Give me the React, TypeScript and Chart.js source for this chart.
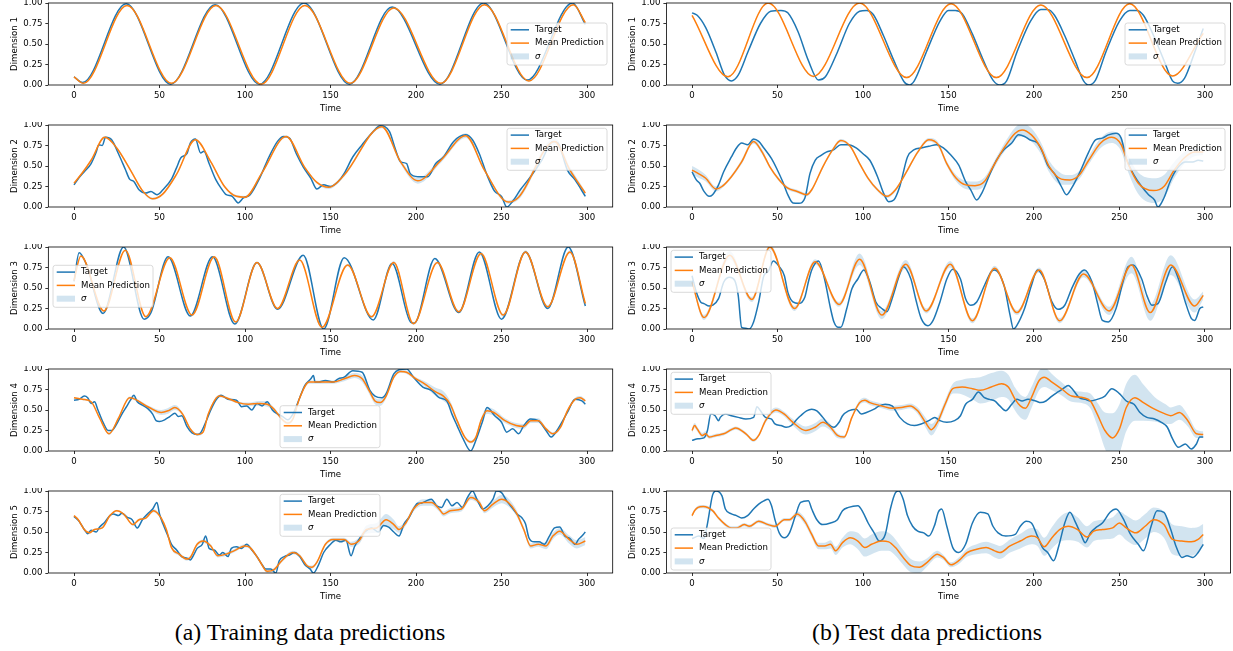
import React, { useEffect, useRef } from 'react';
import { Chart, registerables } from 'chart.js';

Chart.register(...registerables);

type P2 = [number, number];
type P3 = [number, number, number]; // [time, mean, sigma]

// ---------------- axis / text content ----------------
const X_TICKS = [0, 50, 100, 150, 200, 250, 300];
const Y_TICKS = [0, 0.25, 0.5, 0.75, 1.0];
const SERIES_LABELS = ['Target', 'Mean Prediction', 'σ'];
const X_LABEL = 'Time';
const Y_LABEL_PREFIX = 'Dimension';
const CAPTIONS = ['(a) Training data predictions', '(b) Test data predictions'];

// ---------------- (a) training data ----------------
const trainTargetD1: P2[] = [[0,0.10],[5,0.03],[30.5,0.99],[56.5,0.01],[82.5,0.98],[108.5,0.01],[134.5,1.0],[161,0.01],[186,0.95],[214,0.01],[239.5,1.0],[265,0.06],[291.5,1.0],[299,0.74]];
const trainMeanD1: P3[] = [[0,0.10,0.01],[5.5,0.02,0.01],[31,0.97,0.01],[57,0.02,0.01],[83,0.97,0.01],[109.5,0.01,0.01],[135,0.97,0.01],[161.5,0.02,0.01],[187,0.94,0.01],[214.5,0.02,0.01],[240,0.98,0.01],[266,0.05,0.01],[292,0.98,0.01],[299,0.76,0.01]];

const trainTargetD2: P2[] = [[0,0.27],[3,0.36],[6,0.43],[10,0.53],[13,0.67],[14.5,0.76],[16.5,0.75],[18.5,0.85],[22,0.82],[26,0.65],[30,0.46],[32.5,0.34],[35,0.31],[38,0.21],[42,0.17],[45,0.19],[48.5,0.15],[52,0.21],[57,0.34],[60,0.48],[62.5,0.6],[66,0.65],[68,0.78],[71,0.83],[74,0.66],[76,0.68],[79,0.53],[83,0.33],[86,0.23],[89,0.15],[92.5,0.13],[96,0.05],[99,0.11],[103,0.15],[108.5,0.35],[114,0.61],[119,0.8],[122.5,0.86],[126,0.84],[130,0.65],[134,0.49],[138.5,0.35],[142,0.22],[146,0.27],[150,0.25],[154.5,0.31],[158,0.41],[163,0.61],[168.5,0.76],[175,0.92],[179,0.99],[184.5,0.92],[188,0.70],[191,0.55],[194.5,0.53],[196.5,0.41],[201,0.37],[207,0.37],[211.5,0.53],[216,0.61],[222,0.8],[229,0.88],[233,0.82],[237,0.65],[241.5,0.39],[246,0.19],[250,0.13],[253,0.0],[256.5,0.07],[261,0.21],[267,0.37],[273.5,0.57],[280,0.8],[283,0.78],[288.5,0.45],[293,0.33],[299,0.13]];
const trainMeanD2: P3[] = [[0,0.29,0.01],[5,0.42,0.01],[10,0.57,0.01],[18,0.85,0.015],[25,0.72,0.015],[33,0.45,0.015],[40,0.2,0.015],[46,0.10,0.015],[52,0.16,0.015],[60,0.40,0.015],[71,0.82,0.015],[80,0.55,0.015],[88,0.25,0.015],[95,0.13,0.015],[100,0.12,0.015],[110,0.42,0.015],[124,0.86,0.015],[135,0.48,0.015],[142,0.30,0.015],[149,0.24,0.02],[158,0.39,0.02],[180,0.98,0.02],[191,0.55,0.03],[201,0.32,0.035],[215,0.58,0.03],[229,0.87,0.03],[240,0.45,0.02],[254,0.06,0.02],[260,0.12,0.03],[281,0.80,0.04],[290,0.45,0.04],[299,0.17,0.02]];

const trainTargetD3: P2[] = [[0,0.58],[3,0.93],[7,0.8],[17,0.19],[29,1.0],[41,0.12],[45,0.2],[55,0.88],[68,0.16],[81,0.88],[94,0.06],[107,0.81],[119,0.24],[134,0.9],[146,0.0],[158,0.87],[175,0.11],[186,0.8],[197,0.08],[199,0.07],[211,0.86],[225,0.2],[237,0.94],[250,0.12],[264,0.94],[277,0.25],[289,1.0],[299,0.28]];
const trainMeanD3: P3[] = [[0,0.59,0.01],[4,0.89,0.01],[17.5,0.22,0.01],[30,0.96,0.01],[42,0.15,0.01],[56,0.87,0.01],[69,0.17,0.01],[82,0.88,0.01],[94.5,0.085,0.01],[107,0.81,0.01],[119,0.25,0.01],[132,0.84,0.01],[145,0.02,0.01],[160,0.78,0.015],[174,0.15,0.015],[187,0.81,0.02],[198.5,0.065,0.015],[212.5,0.81,0.015],[225,0.21,0.02],[238,0.92,0.02],[251,0.17,0.02],[264,0.94,0.02],[277,0.27,0.02],[290,0.94,0.02],[299,0.31,0.02]];

const trainTargetD4: P2[] = [[0,0.62],[3,0.63],[6,0.67],[8,0.65],[10,0.58],[12,0.6],[14,0.5],[17,0.35],[20,0.25],[22,0.25],[25,0.33],[28,0.45],[31,0.55],[33,0.62],[35,0.68],[37,0.6],[40,0.56],[43,0.52],[46,0.45],[48,0.37],[50,0.36],[53,0.38],[56,0.42],[59,0.46],[61,0.42],[63,0.43],[66,0.3],[69,0.22],[72,0.2],[74,0.22],[77,0.35],[80,0.5],[83,0.62],[86,0.68],[90,0.63],[95,0.62],[98,0.54],[101,0.55],[104,0.5],[107,0.58],[110,0.55],[113,0.6],[116,0.5],[119,0.45],[122,0.42],[125,0.38],[128,0.45],[132,0.65],[135,0.8],[138.5,0.88],[140,0.92],[141,0.84],[143,0.84],[147,0.86],[151.5,0.84],[154.5,0.88],[158,0.9],[163,0.98],[168.5,0.96],[173,0.74],[176,0.67],[180,0.65],[182.5,0.70],[187,0.94],[190,0.99],[194.5,1.0],[198.5,0.9],[204,0.78],[209,0.74],[213.5,0.65],[218,0.61],[221,0.45],[224,0.31],[227.5,0.15],[232,0.0],[235,0.13],[239,0.37],[241.5,0.53],[246,0.43],[250,0.35],[253,0.23],[256.5,0.27],[260,0.21],[263,0.31],[267,0.39],[271.5,0.37],[276,0.25],[279,0.17],[283,0.27],[288.5,0.47],[293,0.63],[297,0.61],[299,0.57]];
const trainMeanD4: P3[] = [[0,0.65,0.01],[5,0.63,0.01],[10,0.6,0.01],[15,0.4,0.01],[20.5,0.21,0.015],[26,0.4,0.015],[32.5,0.65,0.015],[44,0.53,0.02],[51,0.47,0.03],[55,0.49,0.035],[59,0.53,0.03],[63.5,0.45,0.02],[68,0.27,0.015],[72,0.2,0.015],[75.5,0.23,0.015],[78.5,0.45,0.015],[85,0.67,0.015],[89,0.65,0.015],[96,0.59,0.015],[102,0.57,0.02],[108.5,0.58,0.03],[113,0.57,0.03],[117,0.51,0.02],[121.5,0.39,0.02],[125,0.34,0.02],[128,0.39,0.02],[132,0.65,0.02],[137.5,0.84,0.02],[143,0.84,0.02],[151.5,0.84,0.02],[158,0.88,0.03],[164,0.92,0.03],[168.5,0.88,0.04],[173,0.72,0.04],[176,0.61,0.04],[179,0.59,0.04],[182.5,0.67,0.03],[187,0.90,0.02],[191,0.97,0.02],[194.5,0.96,0.02],[200,0.88,0.02],[205,0.82,0.03],[211.5,0.72,0.05],[216,0.67,0.06],[220,0.57,0.04],[224,0.37,0.03],[228.5,0.17,0.02],[232,0.11,0.02],[235,0.17,0.02],[238,0.37,0.03],[241.5,0.49,0.04],[245.5,0.47,0.04],[252,0.37,0.03],[258.5,0.31,0.03],[263,0.30,0.03],[267,0.37,0.03],[271.5,0.37,0.03],[276,0.27,0.02],[280,0.21,0.02],[284.5,0.29,0.02],[288.5,0.49,0.02],[293,0.63,0.02],[296,0.65,0.02],[299,0.61,0.02]];

const trainTargetD5: P2[] = [[0,0.69],[3,0.63],[6,0.53],[8,0.48],[10,0.52],[13,0.5],[15,0.56],[18,0.62],[21,0.7],[23,0.72],[26,0.7],[28,0.73],[31,0.68],[34,0.65],[37,0.55],[40,0.65],[43,0.72],[46,0.78],[48.5,0.86],[50,0.72],[52,0.6],[55,0.45],[57,0.35],[60,0.28],[63,0.2],[66,0.18],[68,0.16],[70,0.22],[72,0.3],[75,0.35],[77,0.45],[79,0.3],[82,0.28],[85,0.22],[87,0.25],[90,0.2],[92,0.3],[95,0.32],[98,0.3],[101,0.35],[104,0.28],[107,0.2],[110,0.1],[112,0.05],[115,0.05],[118,0.0],[120,0.15],[123,0.2],[126,0.22],[129,0.25],[132,0.2],[135,0.1],[138,0.05],[140,0.0],[143,0.1],[146,0.25],[150,0.35],[153,0.4],[156,0.38],[159,0.4],[162,0.21],[164,0.32],[167,0.42],[170,0.5],[174,0.55],[178,0.5],[181,0.58],[184,0.56],[187,0.5],[190,0.45],[193,0.6],[196,0.68],[199,0.8],[201,0.85],[203,0.85],[206,0.88],[209,0.9],[212,0.82],[215,0.8],[218,0.9],[221,0.82],[224,0.86],[227,0.8],[230,0.92],[233,1.0],[236,0.88],[239,0.78],[242,0.82],[245,0.9],[247,1.0],[250,0.98],[253,0.88],[256,0.8],[259,0.72],[262,0.67],[264,0.6],[266,0.43],[269,0.38],[272,0.38],[275,0.35],[278,0.45],[281,0.55],[284,0.56],[287,0.45],[290,0.42],[293,0.35],[295,0.41],[297,0.45],[299,0.5]];
const trainMeanD5: P3[] = [[0,0.70,0.01],[2.5,0.65,0.01],[6,0.53,0.01],[9,0.49,0.01],[12,0.53,0.01],[16.5,0.55,0.01],[21,0.70,0.01],[25,0.76,0.01],[29,0.72,0.01],[34.5,0.59,0.015],[38,0.65,0.015],[42,0.67,0.015],[46.5,0.76,0.02],[51,0.67,0.02],[54,0.53,0.02],[57,0.31,0.02],[61.5,0.23,0.02],[66,0.17,0.02],[68,0.19,0.02],[72,0.35,0.02],[75.5,0.39,0.02],[80,0.33,0.02],[84,0.21,0.02],[89,0.23,0.02],[93.5,0.27,0.02],[100,0.33,0.02],[103,0.31,0.02],[108.5,0.15,0.02],[113,0.02,0.02],[117,0.04,0.02],[121.5,0.15,0.02],[128,0.25,0.02],[132,0.21,0.02],[136.5,0.085,0.02],[139,0.07,0.02],[142,0.13,0.02],[147,0.35,0.02],[151.5,0.41,0.02],[158,0.41,0.02],[162,0.35,0.03],[166.5,0.39,0.04],[171,0.53,0.05],[177,0.55,0.06],[182.5,0.65,0.07],[187,0.59,0.06],[190,0.53,0.04],[194,0.61,0.03],[198.5,0.78,0.03],[204,0.86,0.04],[209,0.86,0.04],[213.5,0.78,0.03],[216,0.72,0.03],[220,0.76,0.03],[226.5,0.78,0.03],[232,0.92,0.03],[237,0.86,0.03],[240,0.76,0.03],[245,0.84,0.04],[250,0.90,0.05],[254,0.86,0.05],[258.5,0.74,0.04],[263,0.53,0.03],[267,0.33,0.03],[271.5,0.35,0.03],[276,0.33,0.04],[280,0.45,0.04],[284,0.51,0.04],[289.5,0.41,0.05],[294,0.35,0.05],[299,0.39,0.05]];

// ---------------- (b) test data ----------------
const testTargetD1: P2[] = [[0,0.88],[3,0.85],[8,0.7],[14,0.4],[19,0.12],[23,0.05],[27,0.12],[33,0.42],[40,0.75],[46,0.9],[52,0.91],[56,0.88],[62,0.65],[68,0.3],[74,0.06],[78,0.1],[85,0.4],[92,0.75],[98,0.9],[102,0.91],[106,0.86],[112,0.6],[118,0.3],[124,0.04],[127,0.0],[130,0.05],[137,0.4],[145,0.78],[150,0.91],[154,0.91],[158,0.87],[164,0.62],[170,0.32],[176,0.06],[180,0.0],[184,0.05],[190,0.4],[198,0.78],[204,0.92],[208,0.92],[212,0.85],[218,0.6],[224,0.3],[229,0.05],[232,0.0],[236,0.06],[242,0.4],[250,0.78],[256,0.91],[260,0.91],[264,0.85],[270,0.6],[276,0.3],[281,0.05],[284,0.02],[288,0.08],[294,0.4],[299,0.69]];
const testMeanD1: P3[] = [[0,0.85,0.01],[21,0.10,0.01],[44.5,1.0,0.01],[71,0.105,0.01],[98,1.0,0.01],[125.5,0.09,0.01],[151.5,0.99,0.01],[178,0.09,0.01],[204,0.975,0.01],[231,0.09,0.01],[256,0.99,0.01],[281,0.11,0.01],[299,0.63,0.01]];

const testTargetD2: P2[] = [[0,0.43],[2.5,0.33],[4.5,0.29],[7,0.19],[10,0.13],[12,0.15],[15.5,0.27],[18.5,0.43],[23,0.61],[26,0.72],[29,0.78],[32.5,0.76],[36,0.83],[39,0.80],[42,0.72],[46.5,0.59],[49.5,0.47],[53,0.31],[56,0.15],[59,0.05],[62.5,0.045],[66,0.11],[69,0.41],[72,0.57],[75.5,0.63],[78.5,0.67],[83,0.70],[87,0.76],[91.5,0.76],[96,0.72],[100,0.65],[104,0.57],[108.5,0.37],[112,0.17],[115,0.065],[118,0.085],[121.5,0.25],[126,0.61],[130,0.70],[134,0.72],[138.5,0.74],[143,0.76],[147,0.72],[151.5,0.63],[156,0.51],[160,0.31],[163,0.21],[166.5,0.085],[169.5,0.17],[174,0.39],[178,0.57],[182.5,0.70],[187,0.78],[191,0.88],[194.5,0.86],[197.5,0.82],[202,0.78],[205,0.67],[208,0.51],[212.5,0.39],[216,0.25],[219,0.15],[222,0.23],[226.5,0.41],[232,0.67],[236,0.82],[240,0.84],[243.5,0.88],[248,0.90],[251,0.84],[254,0.59],[258.5,0.39],[263,0.25],[267,0.15],[270.5,0.085],[272.5,0.0],[276,0.11],[280,0.33],[284.5,0.49],[288.5,0.55],[293,0.55],[296,0.57],[299,0.56]];
const testMeanD2: P3[] = [[0,0.45,0.05],[3.5,0.41,0.05],[8,0.35,0.04],[14,0.22,0.03],[17.5,0.25,0.02],[23,0.37,0.02],[29,0.55,0.03],[36,0.80,0.03],[41,0.67,0.03],[45.5,0.49,0.02],[51,0.33,0.02],[56,0.23,0.02],[61.5,0.19,0.02],[67,0.15,0.02],[70,0.21,0.02],[76.5,0.49,0.02],[82,0.69,0.02],[87,0.81,0.02],[92.5,0.74,0.02],[98,0.53,0.02],[103,0.35,0.02],[108.5,0.21,0.02],[114,0.13,0.02],[119,0.21,0.02],[126,0.45,0.02],[132,0.67,0.02],[138.5,0.82,0.02],[144,0.76,0.03],[149,0.53,0.03],[154.5,0.35,0.04],[160,0.27,0.05],[165.5,0.26,0.05],[171,0.31,0.05],[176,0.49,0.04],[182.5,0.72,0.05],[189,0.90,0.07],[193,0.94,0.08],[198.5,0.88,0.08],[204,0.72,0.07],[209,0.49,0.07],[216,0.34,0.07],[221,0.33,0.06],[226.5,0.39,0.05],[232,0.57,0.05],[239,0.78,0.06],[245.5,0.85,0.07],[251,0.76,0.08],[255,0.53,0.1],[261,0.29,0.13],[270,0.2,0.15],[276,0.25,0.14],[282,0.45,0.1],[288.5,0.61,0.07],[294,0.67,0.05],[299,0.67,0.04]];

const testTargetD3: P2[] = [[0,0.65],[2.5,0.45],[5,0.33],[7,0.31],[10,0.28],[12,0.29],[15.5,0.37],[18.5,0.57],[22,0.63],[25,0.59],[27,0.41],[29,0.02],[31.5,0.01],[33.5,0.0],[36,0.085],[39,0.33],[42,0.65],[44.5,0.70],[47.5,0.83],[51,0.76],[54,0.65],[56,0.45],[59,0.33],[62.5,0.31],[66,0.39],[68,0.57],[70,0.72],[74,0.83],[77.5,0.61],[81,0.25],[83,0.085],[85.5,0.02],[87,0.02],[90.5,0.25],[93.5,0.49],[97,0.61],[100.5,0.72],[104,0.57],[107.5,0.33],[111,0.25],[114,0.21],[117,0.37],[121.5,0.67],[123.5,0.76],[128,0.61],[131,0.35],[134,0.13],[138,0.04],[141,0.105],[145,0.33],[149,0.61],[152.5,0.73],[157,0.61],[160,0.37],[163,0.29],[166.5,0.33],[171,0.53],[175,0.70],[177,0.72],[182.5,0.53],[186,0.17],[188,0.0],[190,0.045],[194.5,0.25],[198.5,0.53],[202,0.72],[206,0.61],[210.5,0.33],[214,0.24],[218,0.29],[222,0.49],[226.5,0.67],[229.5,0.72],[234,0.57],[237,0.33],[240,0.105],[243.5,0.085],[248,0.25],[252,0.57],[255,0.76],[258,0.78],[263,0.61],[266,0.41],[269,0.29],[272.5,0.31],[277,0.57],[281,0.76],[284.5,0.61],[288.5,0.33],[292,0.13],[294,0.105],[297,0.25],[299,0.27]];
const testMeanD3: P3[] = [[0,0.57,0.03],[7,0.14,0.03],[22,0.9,0.05],[35,0.36,0.03],[45.5,1.0,0.03],[60,0.25,0.03],[72,0.82,0.03],[86,0.3,0.03],[98,0.85,0.07],[111,0.17,0.05],[125,0.79,0.05],[137,0.22,0.03],[151,0.79,0.04],[164,0.1,0.03],[177,0.74,0.03],[190,0.2,0.03],[203,0.72,0.03],[215,0.1,0.03],[229,0.67,0.04],[244,0.22,0.05],[257,0.78,0.1],[268,0.2,0.1],[280,0.78,0.12],[294,0.28,0.08],[299,0.41,0.05]];

const testTargetD4: P2[] = [[0,0.13],[3.5,0.15],[7,0.16],[9,0.25],[11,0.45],[13.5,0.43],[15.5,0.37],[16.5,0.41],[19.5,0.45],[23,0.43],[27,0.41],[31.5,0.39],[36,0.41],[38,0.54],[40,0.49],[43,0.41],[46.5,0.39],[48.5,0.33],[52,0.31],[55,0.29],[58,0.31],[61.5,0.39],[63.5,0.43],[67,0.49],[70,0.51],[73,0.49],[76.5,0.41],[79.5,0.33],[83,0.29],[86,0.35],[88,0.43],[91.5,0.49],[96,0.51],[99,0.45],[102,0.47],[106.5,0.51],[109.5,0.55],[113,0.57],[117,0.55],[121.5,0.41],[126,0.33],[130,0.31],[134,0.33],[138.5,0.37],[142,0.41],[145,0.37],[149,0.35],[153.5,0.37],[157,0.43],[160,0.57],[164,0.63],[167.5,0.72],[171,0.65],[174,0.63],[177,0.61],[180,0.55],[183.5,0.49],[187,0.57],[190,0.63],[193,0.61],[196.5,0.63],[201,0.61],[204,0.59],[207,0.61],[210.5,0.67],[214,0.72],[217,0.76],[220,0.80],[223,0.74],[226.5,0.65],[230,0.63],[233,0.61],[237,0.63],[241.5,0.67],[245.5,0.76],[250,0.70],[254,0.61],[258.5,0.57],[262,0.47],[266,0.41],[270.5,0.39],[274.5,0.35],[278,0.29],[281,0.15],[284.5,0.045],[288.5,0.085],[292,0.025],[295,0.085],[297,0.17],[299,0.17]];
const testMeanD4: P3[] = [[0,0.25,0.03],[1.5,0.31,0.03],[3,0.27,0.03],[6,0.19,0.03],[8,0.21,0.03],[10,0.17,0.02],[14,0.19,0.02],[18.5,0.21,0.02],[23,0.26,0.02],[25.5,0.28,0.02],[31.5,0.21,0.02],[36,0.13,0.02],[39,0.19,0.02],[43,0.37,0.03],[49,0.50,0.03],[54,0.45,0.03],[59,0.35,0.04],[66.5,0.25,0.05],[72,0.29,0.05],[76.5,0.35,0.05],[81,0.29,0.04],[85,0.19,0.03],[89,0.17,0.02],[93.5,0.41,0.02],[98,0.59,0.03],[101,0.62,0.03],[104,0.59,0.03],[111,0.55,0.03],[117,0.52,0.03],[122.5,0.53,0.03],[127.5,0.55,0.03],[132,0.49,0.04],[136.5,0.35,0.06],[140,0.26,0.07],[144,0.37,0.06],[148,0.57,0.05],[152.5,0.76,0.06],[158,0.78,0.09],[164,0.76,0.13],[168.5,0.74,0.16],[175,0.78,0.17],[181,0.82,0.16],[185,0.78,0.15],[189,0.63,0.14],[192,0.55,0.14],[195,0.52,0.14],[198.5,0.65,0.13],[203,0.86,0.12],[206,0.90,0.12],[210.5,0.84,0.1],[216,0.76,0.08],[222,0.67,0.07],[229,0.65,0.07],[233,0.61,0.09],[237,0.45,0.14],[241.5,0.25,0.22],[246,0.16,0.3],[250,0.27,0.3],[254,0.53,0.29],[259,0.65,0.28],[264,0.59,0.22],[270.5,0.51,0.15],[277,0.45,0.12],[280,0.43,0.1],[285,0.47,0.09],[290,0.37,0.07],[295,0.21,0.05],[299,0.2,0.04]];

const testTargetD5: P2[] = [[0,0.42],[4,0.45],[7,0.42],[9,0.6],[12,0.95],[14,1.0],[17.5,0.94],[19.5,0.78],[23,0.72],[26,0.70],[29,0.67],[32.5,0.70],[36,0.78],[39,0.84],[42,0.88],[44.5,0.90],[46.5,0.82],[48.5,0.65],[51,0.49],[54,0.43],[57,0.49],[60.5,0.70],[63.5,0.86],[68,0.88],[70,0.78],[73,0.65],[76.5,0.59],[81,0.61],[85,0.65],[88,0.76],[91.5,0.80],[97,0.82],[100,0.74],[103,0.61],[106.5,0.49],[109.5,0.39],[113,0.47],[116,0.78],[119,0.98],[121,1.0],[123.5,0.90],[126,0.70],[129,0.57],[132,0.51],[135.5,0.49],[138.5,0.45],[142,0.59],[144,0.74],[146,0.78],[149,0.57],[152.5,0.31],[156,0.25],[160,0.35],[164,0.61],[168.5,0.74],[173,0.72],[176,0.57],[179,0.49],[183.5,0.45],[189,0.47],[192,0.57],[195.5,0.63],[198.5,0.61],[202,0.45],[205,0.31],[208,0.25],[211.5,0.15],[214.5,0.33],[218,0.61],[221,0.74],[224,0.63],[227.5,0.47],[230,0.37],[233,0.49],[236,0.55],[240,0.61],[244.5,0.74],[248,0.78],[252,0.67],[256.5,0.47],[261,0.35],[264,0.27],[268.5,0.57],[272,0.76],[276,0.74],[280,0.53],[283,0.33],[286.5,0.19],[289.5,0.21],[293,0.19],[296,0.25],[299,0.35]];
const testMeanD5: P3[] = [[0,0.70,0.02],[1.5,0.76,0.02],[3.5,0.80,0.02],[6.5,0.81,0.02],[12,0.76,0.02],[15.5,0.67,0.02],[19.5,0.59,0.02],[23,0.55,0.02],[26,0.55,0.02],[30.5,0.59,0.02],[33.5,0.57,0.02],[39,0.63,0.02],[44.5,0.59,0.02],[48.5,0.57,0.02],[54,0.65,0.02],[57,0.65,0.02],[61.5,0.72,0.03],[66,0.63,0.04],[70,0.47,0.04],[74,0.33,0.04],[77.5,0.33,0.04],[81,0.35,0.05],[84,0.27,0.05],[88,0.37,0.06],[92.5,0.43,0.08],[97,0.39,0.1],[101,0.31,0.11],[105,0.35,0.12],[111,0.39,0.12],[115,0.38,0.11],[119,0.31,0.1],[123.5,0.19,0.09],[128,0.09,0.08],[133,0.07,0.07],[137.5,0.13,0.05],[143.5,0.23,0.04],[147,0.19,0.03],[151.5,0.1,0.03],[156,0.15,0.04],[161,0.25,0.05],[166.5,0.29,0.06],[172,0.31,0.07],[177,0.27,0.08],[180,0.25,0.08],[186,0.33,0.08],[192,0.39,0.09],[198.5,0.45,0.1],[202,0.43,0.1],[206,0.32,0.11],[210.5,0.43,0.13],[215,0.53,0.15],[220,0.57,0.17],[225.5,0.53,0.15],[231,0.44,0.13],[235,0.51,0.12],[240,0.53,0.12],[246,0.55,0.13],[250,0.61,0.14],[254,0.55,0.15],[259.5,0.49,0.15],[265,0.57,0.15],[270,0.65,0.15],[276,0.59,0.16],[281,0.41,0.18],[286.5,0.39,0.18],[292,0.38,0.17],[296,0.41,0.15],[299,0.47,0.13]];

// ---------------- styling / layout ----------------
const BLUE = '#1f77b4';
const ORANGE = '#ff7f0e';
const BAND = 'rgba(31,119,180,0.2)';
const FONT = 'DejaVu Sans';
const FS = 8.6;
const CW = 615;
const CH = 122;
const COL_X = [0, 618];
const AXIS_W = [48.35, 48.4];
const PAD_R = [2.3, 2.4];
const PLOT_TOP = 3;
const X_AXIS_H = 37;

Chart.defaults.font.family = FONT;
Chart.defaults.font.size = FS;
Chart.defaults.color = '#000';

const framePlugin = {
  id: 'frameLegend',
  afterDatasetsDraw(chart: any) {
    const { ctx, chartArea: a } = chart;
    ctx.save();
    ctx.strokeStyle = '#000';
    ctx.lineWidth = 0.8;
    ctx.strokeRect(a.left, a.top, a.right - a.left, a.bottom - a.top);
    ctx.restore();
  },
  afterDraw(chart: any, _args: any, opts: any) {
    const { ctx } = chart;
    const x = opts.x;
    const y = opts.y;
    const w = 100;
    const h = 42;
    ctx.save();
    ctx.beginPath();
    ctx.roundRect(x, y, w, h, 2.5);
    ctx.fillStyle = 'rgba(255,255,255,0.8)';
    ctx.fill();
    ctx.strokeStyle = 'rgba(204,204,204,0.9)';
    ctx.lineWidth = 0.8;
    ctx.stroke();
    const rows = [y + 6.8, y + 20.1, y + 33.4];
    const hx0 = x + 3.7;
    const hx1 = x + 22;
    ctx.lineWidth = 1.5;
    ctx.strokeStyle = BLUE;
    ctx.beginPath(); ctx.moveTo(hx0, rows[0]); ctx.lineTo(hx1, rows[0]); ctx.stroke();
    ctx.strokeStyle = ORANGE;
    ctx.beginPath(); ctx.moveTo(hx0, rows[1]); ctx.lineTo(hx1, rows[1]); ctx.stroke();
    ctx.fillStyle = BAND;
    ctx.fillRect(hx0, rows[2] - 3, hx1 - hx0, 6);
    ctx.fillStyle = '#000';
    ctx.textAlign = 'left';
    ctx.textBaseline = 'middle';
    ctx.font = `${FS}px "${FONT}"`;
    ctx.fillText(SERIES_LABELS[0], x + 28, rows[0]);
    ctx.fillText(SERIES_LABELS[1], x + 28, rows[1]);
    ctx.font = `italic ${FS}px "${FONT}"`;
    ctx.fillText(SERIES_LABELS[2], x + 28, rows[2]);
    ctx.restore();
  },
};

type PanelProps = {
  col: number;
  row: number;
  dim: number;
  target: P2[];
  mean: P3[];
  legend: [number, number];
};

function Panel({ col, row, dim, target, mean, legend }: PanelProps) {
  const ref = useRef<HTMLCanvasElement>(null);
  useEffect(() => {
    const canvas = ref.current;
    if (!canvas) return;
    const line = { pointRadius: 0, pointHoverRadius: 0, cubicInterpolationMode: 'monotone' as const, fill: false };
    const chart = new Chart(canvas, {
      type: 'line',
      data: {
        datasets: [
          { ...line, label: SERIES_LABELS[1], data: mean.map(([t, m]) => ({ x: t, y: m })), borderColor: ORANGE, borderWidth: 1.5 },
          { ...line, label: SERIES_LABELS[0], data: target.map(([t, v]) => ({ x: t, y: v })), borderColor: BLUE, borderWidth: 1.5 },
          { ...line, label: 'upper', data: mean.map(([t, m, s]) => ({ x: t, y: m + s })), borderColor: 'rgba(0,0,0,0)', borderWidth: 1, backgroundColor: BAND, fill: '+1', clip: 0 },
          { ...line, label: 'lower', data: mean.map(([t, m, s]) => ({ x: t, y: m - s })), borderColor: 'rgba(0,0,0,0)', borderWidth: 1, clip: 0 },
        ],
      },
      options: {
        animation: false,
        responsive: false,
        maintainAspectRatio: false,
        events: [],
        layout: { padding: { top: PLOT_TOP, right: PAD_R[col], bottom: 0, left: 0 } },
        plugins: {
          legend: { display: false },
          tooltip: { enabled: false },
          frameLegend: { x: legend[0], y: legend[1] },
        } as any,
        scales: {
          x: {
            type: 'linear',
            min: -15,
            max: 315,
            afterBuildTicks: (s: any) => { s.ticks = X_TICKS.map((v) => ({ value: v })); },
            afterFit: (s: any) => { s.height = X_AXIS_H; s.paddingLeft = 0; s.paddingRight = 0; },
            ticks: { autoSkip: false, maxRotation: 0, padding: 3, color: '#000', font: { size: FS, family: FONT } },
            grid: { display: true, drawOnChartArea: false, drawTicks: true, tickLength: 3, tickWidth: 0.8, tickColor: '#000' },
            border: { display: false },
            title: { display: true, text: X_LABEL, color: '#000', font: { size: FS, family: FONT }, padding: { top: 0, bottom: 8 } },
          },
          y: {
            type: 'linear',
            min: 0,
            max: 1,
            afterBuildTicks: (s: any) => { s.ticks = Y_TICKS.map((v) => ({ value: v })); },
            afterFit: (s: any) => { s.width = AXIS_W[col]; s.paddingTop = 0; s.paddingBottom = 0; },
            ticks: { autoSkip: false, padding: 3, color: '#000', font: { size: FS, family: FONT }, callback: (v: any) => Number(v).toFixed(2) },
            grid: { display: true, drawOnChartArea: false, drawTicks: true, tickLength: 3, tickWidth: 0.8, tickColor: '#000' },
            border: { display: false },
            title: { display: true, text: `${Y_LABEL_PREFIX} ${dim}`, color: '#000', font: { size: FS, family: FONT }, padding: { top: 9.8, bottom: 0 } },
          },
        },
      },
      plugins: [framePlugin],
    });
    return () => chart.destroy();
  }, [col, row, dim, target, mean, legend]);
  return (
    <canvas
      ref={ref}
      width={CW}
      height={CH}
      style={{ position: 'absolute', left: COL_X[col], top: row * 122, width: CW, height: CH }}
    />
  );
}

const PANELS: PanelProps[] = [
  { col: 0, row: 0, dim: 1, target: trainTargetD1, mean: trainMeanD1, legend: [507, 23] },
  { col: 0, row: 1, dim: 2, target: trainTargetD2, mean: trainMeanD2, legend: [507, 6.3] },
  { col: 0, row: 2, dim: 3, target: trainTargetD3, mean: trainMeanD3, legend: [53, 21.3] },
  { col: 0, row: 3, dim: 4, target: trainTargetD4, mean: trainMeanD4, legend: [280, 39.7] },
  { col: 0, row: 4, dim: 5, target: trainTargetD5, mean: trainMeanD5, legend: [280, 6.3] },
  { col: 1, row: 0, dim: 1, target: testTargetD1, mean: testMeanD1, legend: [507, 23] },
  { col: 1, row: 1, dim: 2, target: testTargetD2, mean: testMeanD2, legend: [507, 6.3] },
  { col: 1, row: 2, dim: 3, target: testTargetD3, mean: testMeanD3, legend: [53, 6.3] },
  { col: 1, row: 3, dim: 4, target: testTargetD4, mean: testMeanD4, legend: [53, 6.3] },
  { col: 1, row: 4, dim: 5, target: testTargetD5, mean: testMeanD5, legend: [53, 40] },
];

const captionStyle: React.CSSProperties = {
  position: 'absolute',
  top: 619,
  textAlign: 'center',
  fontFamily: '"Liberation Serif", serif',
  fontSize: 23.8,
  lineHeight: '26px',
  color: '#000',
  whiteSpace: 'nowrap',
};

export default function App() {
  return (
    <div style={{ position: 'absolute', left: 0, top: 0, width: 1233, height: 651, background: '#fff', overflow: 'hidden' }}>
      {PANELS.map((p) => (
        <Panel key={`${p.col}-${p.row}`} {...p} />
      ))}
      <div style={{ ...captionStyle, left: 0, width: 620 }}>{CAPTIONS[0]}</div>
      <div style={{ ...captionStyle, left: 620, width: 614 }}>{CAPTIONS[1]}</div>
    </div>
  );
}
